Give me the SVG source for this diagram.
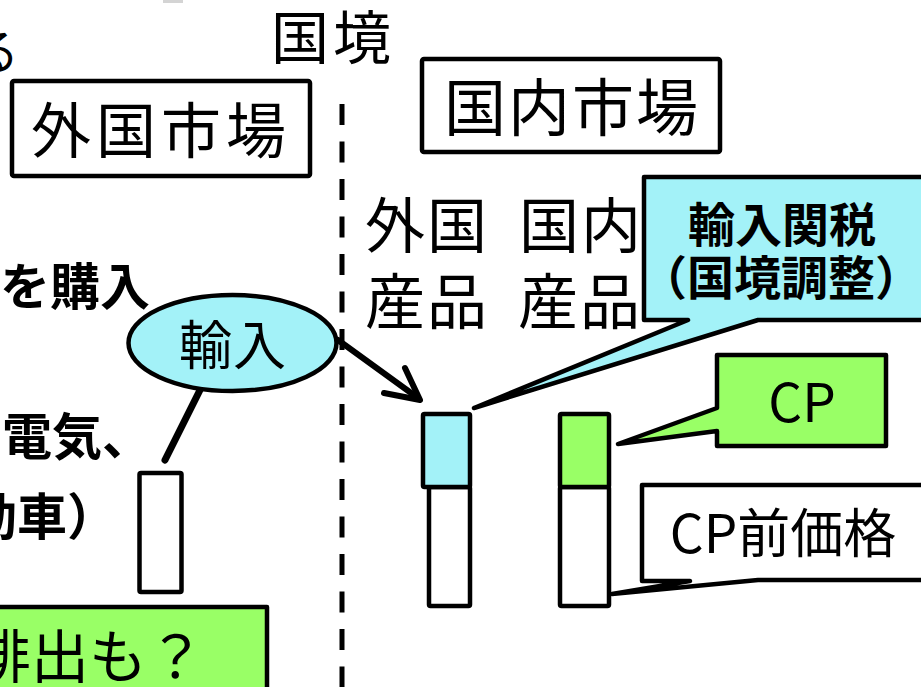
<svg xmlns="http://www.w3.org/2000/svg" width="921" height="687" viewBox="0 0 921 687">
<style>
.t{font-family:"Noto Sans CJK JP","Noto Sans",sans-serif;fill:#000}
.b{font-weight:bold}
.box{fill:#fff;stroke:#000;stroke-width:4.5;stroke-linejoin:round}
.blue{fill:#a3f2f8;stroke:#000;stroke-width:4.5;stroke-linejoin:round}
.green{fill:#99ff66;stroke:#000;stroke-width:4.5;stroke-linejoin:round}
.ln{fill:none;stroke:#000;stroke-linecap:round;stroke-linejoin:round}
</style>
<rect width="921" height="687" fill="#fff"/>
<rect x="163" y="0" width="20" height="3" fill="#d4d4d4"/>
<text class="t" x="-29" y="69" font-size="48">る</text>
<g id="border-label"><text class="t" x="333" y="59" font-size="58" letter-spacing="4" text-anchor="middle">国境</text></g>
<g id="border-line"><line x1="342" y1="104" x2="342" y2="690" stroke="#000" stroke-width="5" stroke-dasharray="21 16.5"/></g>
<g id="foreign-market"><rect class="box" x="12" y="81" width="298" height="95" rx="2"/><text class="t" x="161" y="153" font-size="60" letter-spacing="5" text-anchor="middle">外国市場</text></g>
<g id="domestic-market"><rect class="box" x="422" y="59" width="298" height="93" rx="2"/><text class="t" x="572" y="131" font-size="62" letter-spacing="2" text-anchor="middle">国内市場</text></g>
<g id="left-text">
<text class="t b" x="150" y="305" font-size="50" text-anchor="end">を購入</text>
<text class="t b" x="2" y="455" font-size="50">電気、</text>
<text class="t b" x="-33" y="535" font-size="50">動車）</text>
</g>
<g id="col-foreign"><text class="t" x="365" y="248" font-size="60" letter-spacing="2">外国</text><text class="t" x="365" y="324" font-size="60" letter-spacing="2">産品</text></g>
<g id="col-domestic"><text class="t" x="519" y="248" font-size="60" letter-spacing="2">国内</text><text class="t" x="518" y="324" font-size="60" letter-spacing="2">産品</text></g>
<g id="bar-foreign"><rect class="box" x="139.5" y="473" width="42" height="119" rx="1.5"/></g>
<g id="bar-import"><rect class="box" x="429" y="487" width="41" height="119" rx="1.5"/><rect class="blue" x="423" y="414" width="47" height="73" rx="1.5"/></g>
<g id="bar-domestic"><rect class="box" x="560" y="487" width="49" height="119" rx="1.5"/><rect class="green" x="560" y="414" width="49" height="73" rx="1.5"/></g>
<g id="connectors">
<line class="ln" x1="200" y1="390" x2="165" y2="460" stroke-width="7"/>
<line class="ln" x1="338" y1="340" x2="418" y2="398" stroke-width="6"/>
<polyline class="ln" points="405,368 420,400 384,393" stroke-width="6"/>
</g>
<g id="import-ellipse"><ellipse cx="232.5" cy="343" rx="104" ry="48" fill="#a3f2f8" stroke="#000" stroke-width="4.5"/><text class="t" x="233" y="365" font-size="53" letter-spacing="1" text-anchor="middle">輸入</text></g>
<g id="tariff-callout"><path class="blue" d="M644,177 H930 V320 H758 L474,408 L688,320 H644 Z"/><text class="t b" x="782" y="242" font-size="47" text-anchor="middle">輸入関税</text><text class="t b" x="781" y="295" font-size="47" text-anchor="middle">（国境調整）</text></g>
<g id="cp-callout"><path class="green" d="M717,355 H886 V446 H717 V431 L618,444 L717,408 Z"/><text class="t" x="802" y="422" font-size="53" text-anchor="middle">CP</text></g>
<g id="pre-cp-callout"><path class="box" d="M642,485 H930 V580 H758 L612,594 L690,581 H642 Z"/><text class="t" x="783" y="553" font-size="53" text-anchor="middle">CP前価格</text></g>
<g id="emission-box"><rect class="green" x="-10" y="607" width="277" height="95"/><text class="t" x="-27" y="678" font-size="58">排出も？</text></g>
</svg>
